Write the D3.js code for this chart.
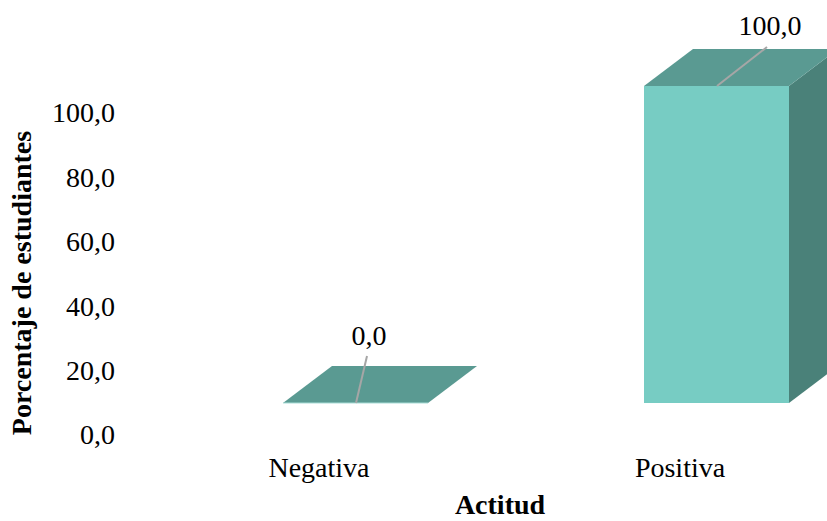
<!DOCTYPE html>
<html>
<head>
<meta charset="utf-8">
<script src="https://cdn.jsdelivr.net/npm/d3@7"></script>
<style>
  html, body { margin: 0; padding: 0; background: #fff; }
  svg { display: block; font-family: "Liberation Serif", "Times New Roman", serif; }
</style>
</head>
<body>
<svg id="chart" width="827" height="521"></svg>
<script>
// Attitude distribution (percentage of students)
const categories = ["Negativa", "Positiva"];
const values = [0, 100];
const tickValues = [0, 20, 40, 60, 80, 100];

const svg = d3.select("#chart");

const fmt = d => d3.format(".1f")(d).replace(".", ",");

// Bar geometry
const barW = 145;
const depthX = 49, depthY = -37;

const x = d3.scalePoint().domain(categories).range([355.5, 716.5]);
const y = d3.scaleLinear().domain([0, 100]).range([403, 86]);
// Value axis labels sit on the rear wall of the 3D plot
const yAxisScale = d3.scaleLinear().domain([0, 100]).range([434, 112]);

const colFront = "#77ccc3";
const colTop = "#5a9a92";
const colSide = "#4a8179";

const bars = svg.append("g").attr("class", "bars");

categories.forEach((c, i) => {
  const v = values[i];
  const x0 = x(c) - barW / 2, x1 = x(c) + barW / 2;
  const yb = y(0), yt = y(v);
  const g = bars.append("g");
  // right side face
  g.append("path")
    .attr("d", `M${x1},${yb} L${x1 + depthX},${yb + depthY} L${x1 + depthX},${yt + depthY} L${x1},${yt} Z`)
    .attr("fill", colSide);
  // front face
  if (yb - yt > 0) {
    g.append("rect")
      .attr("x", x0).attr("y", yt)
      .attr("width", barW).attr("height", yb - yt)
      .attr("fill", colFront);
  }
  // top face
  g.append("path")
    .attr("d", `M${x0},${yt} L${x1},${yt} L${x1 + depthX},${yt + depthY} L${x0 + depthX},${yt + depthY} Z`)
    .attr("fill", colTop);
  if (v === 0) {
    g.append("line")
      .attr("x1", x0).attr("x2", x1).attr("y1", yt).attr("y2", yt)
      .attr("stroke", "#a9ddd7").attr("stroke-width", 1);
  }
});

// Data labels with leader lines
const labelPos = [
  { lx: 369, ly: 345, ex: 367, ey: 356, sx: 356 },
  { lx: 770, ly: 35, ex: 767, ey: 47, sx: 717 }
];
categories.forEach((c, i) => {
  const p = labelPos[i];
  svg.append("line")
    .attr("x1", p.sx).attr("y1", y(values[i]))
    .attr("x2", p.ex).attr("y2", p.ey)
    .attr("stroke", "#a6a6a6").attr("stroke-width", 2);
  svg.append("text")
    .attr("x", p.lx).attr("y", p.ly)
    .attr("text-anchor", "middle")
    .attr("font-size", 28)
    .attr("fill", "#000")
    .text(fmt(values[i]));
});

// Value axis (labels only)
const yAxis = d3.axisLeft(yAxisScale)
  .tickValues(tickValues)
  .tickFormat(fmt)
  .tickSize(0)
  .tickPadding(0);
const ya = svg.append("g").attr("transform", "translate(115,0)").call(yAxis);
ya.select(".domain").remove();
ya.selectAll("text")
  .attr("font-family", "Liberation Serif, Times New Roman, serif")
  .attr("font-size", 28)
  .attr("fill", "#000")
  .attr("dy", "0.35em");

// Category axis (labels only)
const xLabels = d3.axisBottom(x).tickSize(0).tickPadding(0);
const xa = svg.append("g").attr("transform", "translate(-37,477)").call(xLabels);
xa.select(".domain").remove();
xa.selectAll("text")
  .attr("font-family", "Liberation Serif, Times New Roman, serif")
  .attr("font-size", 28)
  .attr("fill", "#000")
  .attr("dy", 0)
  .attr("y", 0);

// Axis titles
svg.append("text")
  .attr("x", 500).attr("y", 514)
  .attr("text-anchor", "middle")
  .attr("font-size", 28).attr("font-weight", "bold")
  .text("Actitud");

svg.append("text")
  .attr("transform", "translate(31,283) rotate(-90)")
  .attr("text-anchor", "middle")
  .attr("font-size", 28).attr("font-weight", "bold")
  .text("Porcentaje de estudiantes");
</script>
</body>
</html>
